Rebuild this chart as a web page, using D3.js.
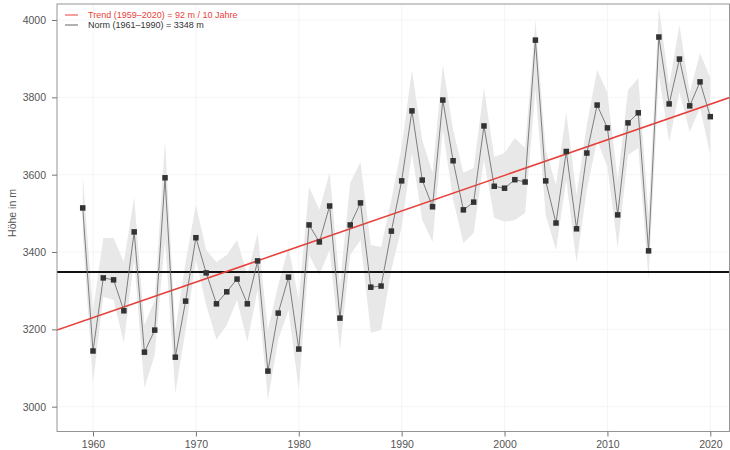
<!DOCTYPE html>
<html>
<head>
<meta charset="utf-8">
<script src="https://cdn.jsdelivr.net/npm/d3@7"></script>
<style>
  html, body { margin: 0; padding: 0; background: #fff; }
  svg { display: block; font-family: "Liberation Sans", Arial, sans-serif; }
</style>
</head>
<body>
<svg id="chart" width="730" height="450"></svg>
<script>
// ---- data ----
const years = d3.range(1959, 2021);
const heights = [3514, 3144, 3333, 3328, 3248, 3452, 3141, 3198, 3592, 3128,
  3273, 3437, 3346, 3266, 3297, 3330, 3266, 3377, 3092, 3242,
  3335, 3149, 3470, 3426, 3519, 3229, 3470, 3527, 3309, 3312,
  3454, 3584, 3765, 3586, 3517, 3793, 3636, 3509, 3529, 3726,
  3570, 3565, 3587, 3581, 3948, 3584, 3475, 3660, 3460, 3656,
  3780, 3721, 3496, 3734, 3760, 3403, 3956, 3783, 3899, 3778,
  3840, 3750];
const bandUpper = [3599, 3250, 3436, 3436, 3374, 3542, 3211, 3276, 3690, 3198,
  3374, 3522, 3405, 3374, 3392, 3431, 3341, 3449, 3198, 3315,
  3413, 3276, 3568, 3509, 3605, 3315, 3579, 3633, 3418, 3413,
  3535, 3672, 3871, 3690, 3605, 3884, 3716, 3605, 3617, 3824,
  3646, 3656, 3695, 3669, 4000, 3664, 3574, 3762, 3548, 3729,
  3871, 3812, 3586, 3819, 3850, 3496, 4034, 3832, 3987, 3812,
  3915, 3850];
const bandLower = [3444, 3061, 3284, 3276, 3165, 3380, 3048, 3134, 3431, 3035,
  3198, 3380, 3263, 3173, 3211, 3276, 3167, 3302, 3017, 3173,
  3250, 3043, 3392, 3341, 3405, 3147, 3392, 3431, 3191, 3198,
  3354, 3465, 3656, 3483, 3426, 3716, 3535, 3423, 3449, 3638,
  3488, 3478, 3483, 3501, 3819, 3496, 3405, 3586, 3372, 3561,
  3690, 3620, 3411, 3651, 3669, 3328, 3858, 3685, 3814, 3711,
  3773, 3651];
const normValue = 3348;
const trendRef = {year: 1959, value: 3221};
const trendPerDecade = 92;
const yTicks = [3000, 3200, 3400, 3600, 3800, 4000];
const xTicks = [1960, 1970, 1980, 1990, 2000, 2010, 2020];
const legendLabels = ["Trend (1959\u20132020) = 92 m / 10 Jahre", "Norm (1961\u20131990) = 3348 m"];
const yLabel = "H\u00f6he in m";

// ---- layout ----
const svg = d3.select("#chart");
const L = 57, R = 735, T = 4, B = 431.5, frameR = 729.5;
const x = d3.scaleLinear().domain([1956.5, 2022.4]).range([L, R]);
const y = d3.scaleLinear().domain([2935.8, 4041.4]).range([B, T]);

svg.append("defs").append("clipPath").attr("id", "clip")
  .append("rect").attr("x", L).attr("y", T).attr("width", frameR - L).attr("height", B - T);

// grid
const grid = svg.append("g");
grid.selectAll(".gy").data(yTicks).join("line")
  .attr("x1", L).attr("x2", frameR).attr("y1", d => y(d)).attr("y2", d => y(d))
  .attr("stroke", "#f1f1f1").attr("stroke-width", 0.8);
grid.selectAll(".gx").data(xTicks).join("line")
  .attr("y1", T).attr("y2", B).attr("x1", d => x(d)).attr("x2", d => x(d))
  .attr("stroke", "#f1f1f1").attr("stroke-width", 0.8);

const plot = svg.append("g").attr("clip-path", "url(#clip)");
const rows = years.map((yr, i) => ({yr, v: heights[i], lo: bandLower[i], hi: bandUpper[i]}));

// band
plot.append("path").datum(rows)
  .attr("d", d3.area().x(d => x(d.yr)).y0(d => y(d.lo)).y1(d => y(d.hi)))
  .attr("fill", "#e8e8e8");

// norm line
plot.append("line").attr("x1", L).attr("x2", frameR)
  .attr("y1", y(normValue)).attr("y2", y(normValue))
  .attr("stroke", "#111").attr("stroke-width", 2);

// trend
const trendAt = yr => trendRef.value + (yr - trendRef.year) * trendPerDecade / 10;
const trendYears = x.domain();
plot.append("line")
  .attr("x1", x(trendYears[0])).attr("y1", y(trendAt(trendYears[0])))
  .attr("x2", x(trendYears[1])).attr("y2", y(trendAt(trendYears[1])))
  .attr("stroke", "#e8403a").attr("stroke-width", 1.6);

// series line
plot.append("path").datum(rows)
  .attr("d", d3.line().x(d => x(d.yr)).y(d => y(d.v)))
  .attr("fill", "none").attr("stroke", "#707070").attr("stroke-width", 0.9);

// points
plot.selectAll(".pt").data(rows).join("rect")
  .attr("x", d => x(d.yr) - 2.75).attr("y", d => y(d.v) - 2.75)
  .attr("width", 5.5).attr("height", 5.5).attr("fill", "#333");

// frame
svg.append("rect").attr("x", L).attr("y", T).attr("width", frameR - L).attr("height", B - T)
  .attr("fill", "none").attr("stroke", "#8a8a8a").attr("stroke-width", 0.9);

// y axis
const yAxis = svg.append("g").attr("transform", `translate(${L},0)`)
  .call(d3.axisLeft(y).tickValues(yTicks).tickSize(5).tickPadding(6).tickFormat(d3.format("d")));
yAxis.select(".domain").remove();
yAxis.selectAll("line").attr("stroke", "#777");
yAxis.selectAll("text").attr("fill", "#555").attr("font-size", "10.5px")
  .attr("font-family", "'Liberation Sans', Arial, sans-serif");

// x axis
const xAxis = svg.append("g").attr("transform", `translate(0,${B})`)
  .call(d3.axisBottom(x).tickValues(xTicks).tickSize(5).tickPadding(4).tickFormat(d3.format("d")));
xAxis.select(".domain").remove();
xAxis.selectAll("line").attr("stroke", "#777");
xAxis.selectAll("text").attr("fill", "#555").attr("font-size", "10.5px")
  .attr("font-family", "'Liberation Sans', Arial, sans-serif");

// y label
svg.append("text").attr("transform", "translate(16,213) rotate(-90)")
  .attr("text-anchor", "middle").attr("fill", "#555").attr("font-size", "10.5px")
  .text(yLabel);

// legend
const legColors = ["#e8403a", "#666"];
const legText = ["#e8403a", "#333"];
const leg = svg.append("g");
legendLabels.forEach((lab, i) => {
  const ly = 15 + i * 10;
  leg.append("line").attr("x1", 65).attr("x2", 78).attr("y1", ly).attr("y2", ly)
    .attr("stroke", legColors[i]).attr("stroke-width", 1);
  leg.append("text").attr("x", 88).attr("y", ly + 3).attr("font-size", "9px")
    .attr("fill", legText[i]).text(lab);
});
</script>
</body>
</html>
